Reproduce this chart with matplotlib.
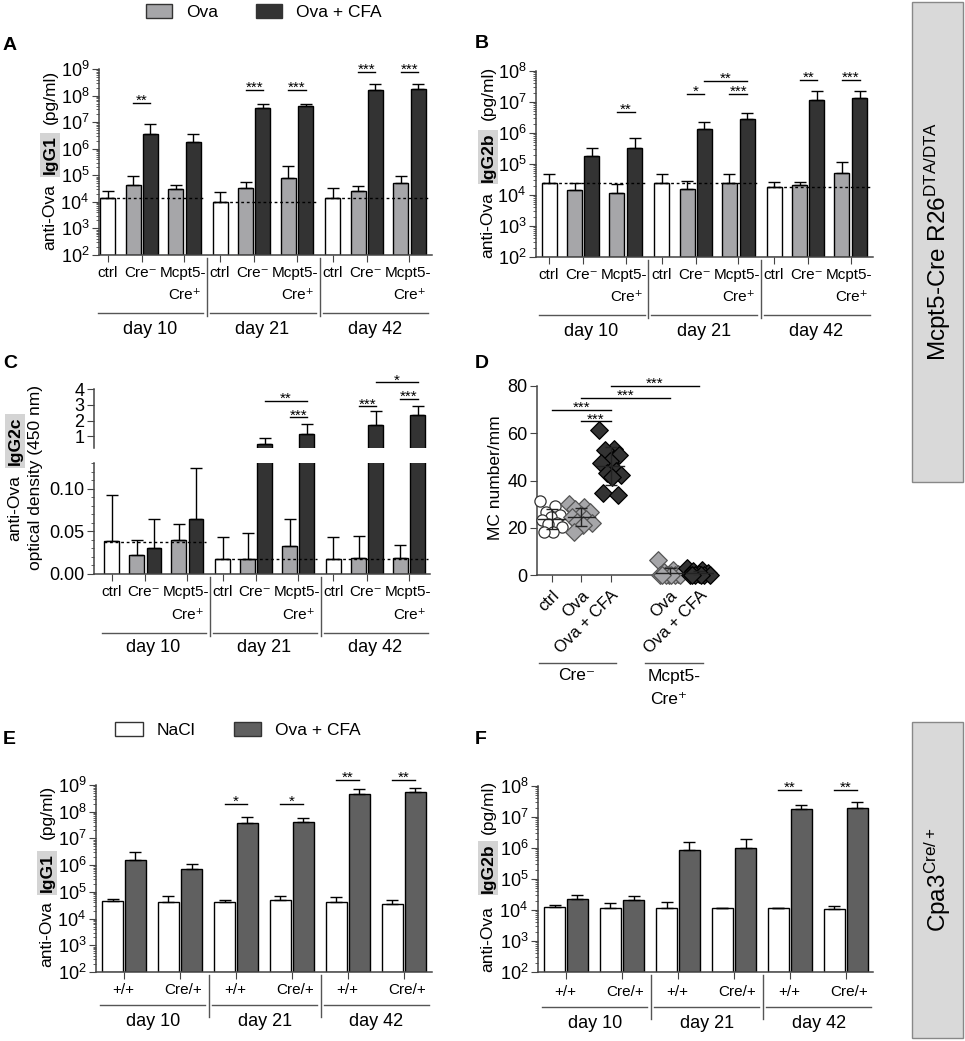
import numpy as np
import matplotlib
matplotlib.use('Agg')
import matplotlib.pyplot as plt
from matplotlib.patches import Rectangle, Patch
from matplotlib.ticker import LogLocator, NullFormatter, MultipleLocator, LogFormatterMathtext

plt.rcParams['font.family'] = ['Liberation Sans', 'DejaVu Sans']
plt.rcParams['mathtext.default'] = 'regular'
plt.rcParams['axes.linewidth'] = 1.1
plt.rcParams['axes.edgecolor'] = '#444444'
plt.rcParams['xtick.color'] = '#444444'
plt.rcParams['ytick.color'] = '#444444'
plt.rcParams['xtick.labelcolor'] = 'black'
plt.rcParams['ytick.labelcolor'] = 'black'

# ---------------- data ----------------
days = ['day 10', 'day 21', 'day 42']

# A-C, per day: ctrl, Cre- Ova, Cre- Ova+CFA, Mcpt5-Cre+ Ova, Mcpt5-Cre+ Ova+CFA
igg1_mean = [[1.45e4, 4.3e4, 3.5e6, 2.95e4, 1.8e6],
             [1.0e4, 3.4e4, 3.3e7, 7.6e4, 4.1e7],
             [1.45e4, 2.6e4, 1.6e8, 5.0e4, 1.8e8]]
igg1_sem = [[1.15e4, 5.2e4, 4.8e6, 1.35e4, 1.7e6],
            [1.4e4, 2.4e4, 1.5e7, 1.44e5, 7e6],
            [1.75e4, 1.5e4, 1.2e8, 4.3e4, 1.0e8]]
igg1_ctrl = [1.45e4, 0.95e4, 1.45e4]
igg1_sig = [(0, 'cre', 5.4e7, '**'), (1, 'cre', 1.6e8, '***'), (1, 'mcpt', 1.6e8, '***'),
            (2, 'cre', 7.9e8, '***'), (2, 'mcpt', 7.9e8, '***')]

igg2b_mean = [[2.45e4, 1.4e4, 1.8e5, 1.2e4, 3.4e5],
              [2.45e4, 1.6e4, 1.35e6, 2.35e4, 2.8e6],
              [1.8e4, 2.05e4, 1.2e7, 5.1e4, 1.35e7]]
igg2b_sem = [[2.25e4, 1.05e4, 1.6e5, 1.1e4, 3.5e5],
             [2.45e4, 1.15e4, 9.5e5, 2.25e4, 1.7e6],
             [8e3, 5.5e3, 1.1e7, 6.6e4, 9e6]]
igg2b_ctrl = [2.45e4, 2.45e4, 1.75e4]
igg2b_sig = [(0, 'mcpt', 4.9e6, '**'), (1, 'cre', 1.8e7, '*'), (1, 'mcpt', 1.8e7, '***'),
             (1, 'cross', 4.9e7, '**'), (2, 'cre', 5.1e7, '**'), (2, 'mcpt', 5.1e7, '***')]

igg2c_mean = [[0.039, 0.022, 0.030, 0.040, 0.064],
              [0.018, 0.017, 0.51, 0.033, 1.15],
              [0.017, 0.019, 1.74, 0.019, 2.37]]
igg2c_sem = [[0.053, 0.018, 0.035, 0.019, 0.060],
             [0.025, 0.031, 0.38, 0.032, 0.65],
             [0.026, 0.026, 0.84, 0.015, 0.57]]
igg2c_ctrl = [0.038, 0.017, 0.017]
igg2c_sig = [(1, 'mcpt', 2.2, '***'), (1, 'cross', 3.26, '**'), (2, 'cre', 2.9, '***'),
             (2, 'mcpt', 3.37, '***'), (2, 'cross', 4.42, '*')]

# D: MC number/mm
mc_labels = ['ctrl', 'Ova', 'Ova + CFA', 'Ova', 'Ova + CFA']
mc_ctrl = [31.5, 29.3, 26.8, 25.4, 24.6, 23.2, 21.8, 21.4, 20.4, 18.3, 18.0]
mc_ova = [29.9, 28.9, 27.9, 26.8, 25.6, 24.6, 23.7, 22.3, 21.8, 21.1, 18.0]
mc_cfa = [61.3, 53.5, 52.8, 51.0, 48.2, 47.6, 43.9, 43.0, 42.5, 41.5, 34.9, 33.8]
mc_dta_ova = [6.3, 2.0, 1.2, 0.6, 0, 0, 0, 0, 0, 0, 0]
mc_dta_cfa = [3.0, 2.0, 1.5, 1.0, 0.5, 0, 0, 0, 0, 0, 0]
mc_sig = [(1, 3, 70, '***'), (2, 3, 65, '***'), (2, 5, 75, '***'), (3, 6, 80, '***')]

# E/F, per day: +/+ NaCl, +/+ Ova+CFA, Cre/+ NaCl, Cre/+ Ova+CFA
cpa_igg1_mean = [[4.6e4, 1.55e6, 4.3e4, 6.9e5],
                 [4.3e4, 3.9e7, 4.9e4, 4.1e7],
                 [4.0e4, 4.6e8, 3.4e4, 5.6e8]]
cpa_igg1_sem = [[1.0e4, 1.65e6, 2.8e4, 4.1e5],
                [0.8e4, 2.6e7, 2.2e4, 1.9e7],
                [2.2e4, 2.6e8, 1.5e4, 2.3e8]]
cpa_igg1_sig = [(1, 0, 2.0e8, '*'), (1, 1, 2.0e8, '*'), (2, 0, 1.55e9, '**'), (2, 1, 1.55e9, '**')]

cpa_igg2b_mean = [[1.29e4, 2.24e4, 1.2e4, 2.1e4],
                  [1.12e4, 8.9e5, 1.12e4, 9.8e5],
                  [1.12e4, 1.86e7, 1.05e4, 2.0e7]]
cpa_igg2b_sem = [[1.6e3, 7.6e3, 4.6e3, 7e3],
                 [7.4e3, 6.9e5, 5e2, 9.7e5],
                 [5e2, 5.4e6, 3e3, 1.1e7]]
cpa_igg2b_sig = [(2, 0, 7.6e7, '**'), (2, 1, 7.6e7, '**')]

# ---------------- layout helpers ----------------
W, H = 965, 1041
fig = plt.figure(figsize=(W / 100, H / 100), dpi=100)

OFF = [0.87, 2.57, 3.73, 5.4, 6.57]
GSP = 7.5
COLS = ['white', '#a6a6a9', '#333333', '#a6a6a9', '#333333']
OFF2 = [0.79, 1.88, 3.45, 4.55]
GSP2 = 5.33
COLS2 = ['white', '#606060', 'white', '#606060']
MINUS = '\u207b'
PLUS = '\u207a'


def add_ax(l, t, r, b):
    ax = fig.add_axes([l / W, 1 - b / H, (r - l) / W, (b - t) / H])
    ax.rect_px = (l, t, r, b)
    return ax


def yf(ax, ypx):
    l, t, r, b = ax.rect_px
    return (b - ypx) / (b - t)


def vtext(x, y, s, **kw):
    fig.text(x / W, 1 - y / H, s, rotation=90, ha='center', va='center', **kw)


def style_log(ax, top):
    ax.set_yscale('log')
    ax.set_ylim(1e2, 10 ** top)
    ax.yaxis.set_major_locator(LogLocator(base=10, numticks=20))
    ax.yaxis.set_major_formatter(LogFormatterMathtext())
    ax.yaxis.set_minor_locator(LogLocator(base=10, subs=np.arange(2, 10), numticks=20))
    ax.yaxis.set_minor_formatter(NullFormatter())
    for s in ['top', 'right']:
        ax.spines[s].set_visible(False)
    ax.tick_params(axis='y', which='major', length=5, labelsize=13, pad=2)
    ax.tick_params(axis='y', which='minor', length=2.5)
    ax.tick_params(axis='x', length=5)


def star(ax, x0, x1, y, s, fs=11):
    ax.plot([x0, x1], [y, y], color='black', lw=1, clip_on=False, zorder=4)
    ax.annotate(s, ((x0 + x1) / 2, y), xytext=(0, -1.5), textcoords='offset points',
                ha='center', va='baseline', fontsize=fs, annotation_clip=False)


def draw_abc(ax, means, sems, ctrl, shift, floor):
    for g in range(3):
        for i in range(5):
            x = g * GSP + OFF[i] + shift
            ax.bar(x, means[g][i] - floor, bottom=floor, width=1, color=COLS[i],
                   edgecolor='black', lw=1, zorder=2)
            ax.errorbar(x, means[g][i], yerr=[[0], [sems[g][i]]], fmt='none', ecolor='black',
                        elinewidth=1, capsize=4, capthick=1, zorder=3)
        ax.plot([g * GSP + OFF[0] + shift - 0.5, g * GSP + OFF[4] + shift + 0.7], [ctrl[g]] * 2,
                ls=(0, (2, 2)), color='black', lw=1, zorder=3)


def sig_abc(ax, sigs, shift):
    for g, kind, y, s in sigs:
        base = g * GSP + shift
        if kind == 'cre':
            x0, x1 = OFF[1], OFF[2]
        elif kind == 'mcpt':
            x0, x1 = OFF[3], OFF[4]
        else:
            x0, x1 = OFF[2], OFF[4]
        star(ax, base + x0, base + x1, y, s)


def deco_abc(ax, shift, y_lab, y_sub, y_line, y_day):
    tr = ax.get_xaxis_transform()
    ticks = []
    for g in range(3):
        b = g * GSP + shift
        xc, xcre, xm = b + OFF[0], b + (OFF[1] + OFF[2]) / 2, b + (OFF[3] + OFF[4]) / 2
        ticks += [xc, xcre, xm]
        ax.text(xc, yf(ax, y_lab), 'ctrl', transform=tr, ha='center', va='center', fontsize=11)
        ax.text(xcre - 0.1, yf(ax, y_lab), 'Cre' + MINUS, transform=tr, ha='center', va='center', fontsize=11)
        ax.text(xm - 0.1, yf(ax, y_lab), 'Mcpt5-', transform=tr, ha='center', va='center', fontsize=11)
        ax.text(b + OFF[4] + 0.55, yf(ax, y_sub), 'Cre' + PLUS, transform=tr, ha='right', va='center', fontsize=11)
        ax.plot([b + 0.2, b + 7.25], [yf(ax, y_line)] * 2, transform=tr,
                color='#555555', lw=1, clip_on=False)
        ax.text(b + 3.7, yf(ax, y_day), days[g], transform=tr, ha='center', va='center', fontsize=13)
        if g > 0:
            ax.plot([b, b], [yf(ax, ax.rect_px[3] + 3), yf(ax, y_line + 3)], transform=tr,
                    color='#555555', lw=1, clip_on=False)
    ax.set_xticks(ticks)
    ax.set_xticklabels([])


def draw_ef(ax, means, sems, sigs):
    ticks = []
    for g in range(3):
        for i in range(4):
            x = g * GSP2 + OFF2[i]
            ax.bar(x, means[g][i] - 1e2, bottom=1e2, width=1, color=COLS2[i],
                   edgecolor='black', lw=1, zorder=2)
            ax.errorbar(x, means[g][i], yerr=[[0], [sems[g][i]]], fmt='none', ecolor='black',
                        elinewidth=1, capsize=4, capthick=1, zorder=3)
        ticks += [g * GSP2 + (OFF2[0] + OFF2[1]) / 2, g * GSP2 + (OFF2[2] + OFF2[3]) / 2]
    for g, p, y, s in sigs:
        star(ax, g * GSP2 + OFF2[2 * p], g * GSP2 + OFF2[2 * p + 1], y, s)
    ax.set_xticks(ticks)
    ax.set_xticklabels([])


def deco_ef(ax, y_lab, y_line, y_day):
    tr = ax.get_xaxis_transform()
    for g in range(3):
        b = g * GSP2
        ax.text(b + (OFF2[0] + OFF2[1]) / 2 - 0.05, yf(ax, y_lab), '+/+', transform=tr,
                ha='center', va='center', fontsize=11)
        ax.text(b + (OFF2[2] + OFF2[3]) / 2 + 0.15, yf(ax, y_lab), 'Cre/+', transform=tr,
                ha='center', va='center', fontsize=11)
        ax.plot([b + 0.2, b + 5.2], [yf(ax, y_line)] * 2, transform=tr,
                color='#555555', lw=1, clip_on=False)
        ax.text(b + 2.7, yf(ax, y_day), days[g], transform=tr, ha='center', va='center', fontsize=13)
        if g > 0:
            ax.plot([b + 0.05, b + 0.05], [yf(ax, ax.rect_px[3] + 3), yf(ax, y_line + 12)], transform=tr,
                    color='#555555', lw=1, clip_on=False)


# ---------------- legend (top) ----------------
fig.legend([Patch(fc='#a6a6a9', ec='#333333'), Patch(fc='#333333', ec='#333333')],
           ['Ova', 'Ova + CFA'], loc='center', bbox_to_anchor=(264 / W, 1 - 12 / H), ncol=2,
           frameon=False, fontsize=12.5, handlelength=1.5, handleheight=0.9,
           columnspacing=2.2, handletextpad=0.8)

# ---------------- A ----------------
axA = add_ax(99, 69, 432, 255)
style_log(axA, 9)
axA.set_xlim(0, 22.2)
draw_abc(axA, igg1_mean, igg1_sem, igg1_ctrl, -0.3, 1e2)
sig_abc(axA, igg1_sig, -0.3)
deco_abc(axA, -0.3, 273, 295, 313, 330)
fig.text(3 / W, 1 - 45 / H, 'A', fontsize=14, fontweight='bold', va='center')
vtext(50, 217, 'anti-Ova', fontsize=12.5)
vtext(50, 155, 'IgG1', fontsize=12.5, fontweight='bold',
      bbox=dict(boxstyle='square,pad=0.15', fc='#d4d4d4', ec='none'))
vtext(50, 97, '(pg/ml)', fontsize=12.5)

# ---------------- B ----------------
axB = add_ax(536, 71, 873, 257)
style_log(axB, 8)
axB.set_xlim(0, 22.47)
draw_abc(axB, igg2b_mean, igg2b_sem, igg2b_ctrl, 0, 1e2)
sig_abc(axB, igg2b_sig, 0)
deco_abc(axB, 0, 275, 297, 315, 332)
fig.text(475 / W, 1 - 43 / H, 'B', fontsize=14, fontweight='bold', va='center')
vtext(488, 225, 'anti-Ova', fontsize=12.5)
vtext(488, 157, 'IgG2b', fontsize=12.5, fontweight='bold',
      bbox=dict(boxstyle='square,pad=0.15', fc='#d4d4d4', ec='none'))
vtext(488, 93, '(pg/ml)', fontsize=12.5)

# ---------------- C (broken axis) ----------------
axCt = add_ax(94, 389, 430, 448)
axCb = add_ax(94, 463, 430, 574)
for ax in (axCt, axCb):
    ax.set_xlim(-0.33, 22.4)
    draw_abc(ax, igg2c_mean, igg2c_sem, igg2c_ctrl, 0, 0)
    ax.spines['top'].set_visible(False)
    ax.spines['right'].set_visible(False)
    ax.tick_params(axis='y', which='major', length=5, labelsize=13, pad=2)
    ax.tick_params(axis='y', which='minor', length=2.5)
axCt.set_ylim(0.26, 4)
axCt.set_yticks([1, 2, 3, 4])
axCt.spines['bottom'].set_visible(False)
axCt.set_xticks([])
axCb.set_ylim(0, 0.13)
axCb.set_yticks([0, 0.05, 0.10])
axCb.set_yticklabels(['0.00', '0.05', '0.10'])
axCb.yaxis.set_minor_locator(MultipleLocator(0.01))
axCb.tick_params(axis='x', length=5)
sig_abc(axCt, igg2c_sig, 0)
deco_abc(axCb, 0, 592, 615, 633, 648)
fig.text(3 / W, 1 - 363 / H, 'C', fontsize=14, fontweight='bold', va='center')
vtext(15, 508, 'anti-Ova', fontsize=12.5)
vtext(15, 441, 'IgG2c', fontsize=12.5, fontweight='bold',
      bbox=dict(boxstyle='square,pad=0.15', fc='#d4d4d4', ec='none'))
vtext(36, 477, 'optical density (450 nm)', fontsize=12.5)

# ---------------- D ----------------
axD = add_ax(537, 386, 714, 575)
axD.set_xlim(0.5, 6.5)
axD.set_ylim(0, 80)
for s in ['top', 'right']:
    axD.spines[s].set_visible(False)
mc_groups = [(1, mc_ctrl, 'o', 'white', '#333333', 65),
             (2, mc_ova, 'D', '#a6a6a9', '#555555', 80),
             (3, mc_cfa, 'D', '#333333', 'black', 80),
             (5, mc_dta_ova, 'D', '#a6a6a9', '#555555', 80),
             (6, mc_dta_cfa, 'D', '#333333', 'black', 80)]
for pos, vals, mk, fc, ec, sz in mc_groups:
    vals = np.array(vals)
    n = len(vals)
    offs = 0.4 * (((np.arange(n) * 0.618) % 1.0) * 2 - 1)
    axD.scatter(pos + offs, vals, marker=mk, s=sz, facecolor=fc, edgecolor=ec, lw=0.9,
                zorder=3, clip_on=False)
    m, sd = vals.mean(), vals.std(ddof=1)
    axD.plot([pos - 0.45, pos + 0.45], [m, m], color='#222222', lw=1, zorder=4)
    axD.errorbar(pos, m, yerr=sd, fmt='none', ecolor='#222222', elinewidth=1, capsize=4, zorder=4)
for a, b, y, s in mc_sig:
    star(axD, a, b, y, s, fs=11)
axD.set_xticks([1, 2, 3, 5, 6])
axD.set_xticklabels(mc_labels, rotation=45, ha='right', rotation_mode='anchor', fontsize=12)
axD.set_yticks([0, 20, 40, 60, 80])
axD.tick_params(axis='y', length=5, labelsize=13, pad=2)
axD.tick_params(axis='x', length=5, pad=4)
trD = axD.get_xaxis_transform()
axD.plot([0.57, 3.18], [yf(axD, 663)] * 2, transform=trD, color='#555555', lw=1, clip_on=False)
axD.plot([4.16, 6.13], [yf(axD, 663)] * 2, transform=trD, color='#555555', lw=1, clip_on=False)
axD.text(1.85, yf(axD, 676), 'Cre' + MINUS, transform=trD, ha='center', va='center', fontsize=12.5)
axD.text(5.15, yf(axD, 676), 'Mcpt5-', transform=trD, ha='center', va='center', fontsize=12.5)
axD.text(4.95, yf(axD, 699), 'Cre' + PLUS, transform=trD, ha='center', va='center', fontsize=12.5)
fig.text(475 / W, 1 - 363 / H, 'D', fontsize=14, fontweight='bold', va='center')
vtext(495, 478, 'MC number/mm', fontsize=12.5)

# ---------------- E ----------------
fig.legend([Patch(fc='white', ec='#333333'), Patch(fc='#606060', ec='#333333')],
           ['NaCl', 'Ova + CFA'], loc='center', bbox_to_anchor=(238 / W, 1 - 730 / H), ncol=2,
           frameon=False, fontsize=12.5, handlelength=1.6, handleheight=0.9,
           columnspacing=2.2, handletextpad=0.8)
axE = add_ax(96, 785, 432, 972)
style_log(axE, 9)
axE.set_xlim(0, 16)
draw_ef(axE, cpa_igg1_mean, cpa_igg1_sem, cpa_igg1_sig)
deco_ef(axE, 990, 1005, 1022)
fig.text(3 / W, 1 - 740 / H, 'E', fontsize=14, fontweight='bold', va='center')
vtext(47, 934, 'anti-Ova', fontsize=12.5)
vtext(47, 873, 'IgG1', fontsize=12.5, fontweight='bold',
      bbox=dict(boxstyle='square,pad=0.15', fc='#d4d4d4', ec='none'))
vtext(47, 812, '(pg/ml)', fontsize=12.5)

# ---------------- F ----------------
axF = add_ax(538, 786, 873, 972)
style_log(axF, 8)
axF.set_xlim(0, 15.95)
draw_ef(axF, cpa_igg2b_mean, cpa_igg2b_sem, cpa_igg2b_sig)
deco_ef(axF, 992, 1007, 1023)
fig.text(475 / W, 1 - 740 / H, 'F', fontsize=14, fontweight='bold', va='center')
vtext(488, 939, 'anti-Ova', fontsize=12.5)
vtext(488, 868, 'IgG2b', fontsize=12.5, fontweight='bold',
      bbox=dict(boxstyle='square,pad=0.15', fc='#d4d4d4', ec='none'))
vtext(488, 807, '(pg/ml)', fontsize=12.5)

# ---------------- side boxes ----------------
for (t, b, label, yc) in [(2, 482, 'Mcpt5-Cre R26$^{DTA/DTA}$', 241),
                          (722, 1038, 'Cpa3$^{Cre/+}$', 880)]:
    fig.add_artist(Rectangle((912 / W, 1 - b / H), 51 / W, (b - t) / H, transform=fig.transFigure,
                             fc='#d9d9d9', ec='#888888', lw=1))
    fig.text(938 / W, 1 - yc / H, label, rotation=90, ha='center', va='center', fontsize=17.5)

fig.savefig('out.png', dpi=100)
